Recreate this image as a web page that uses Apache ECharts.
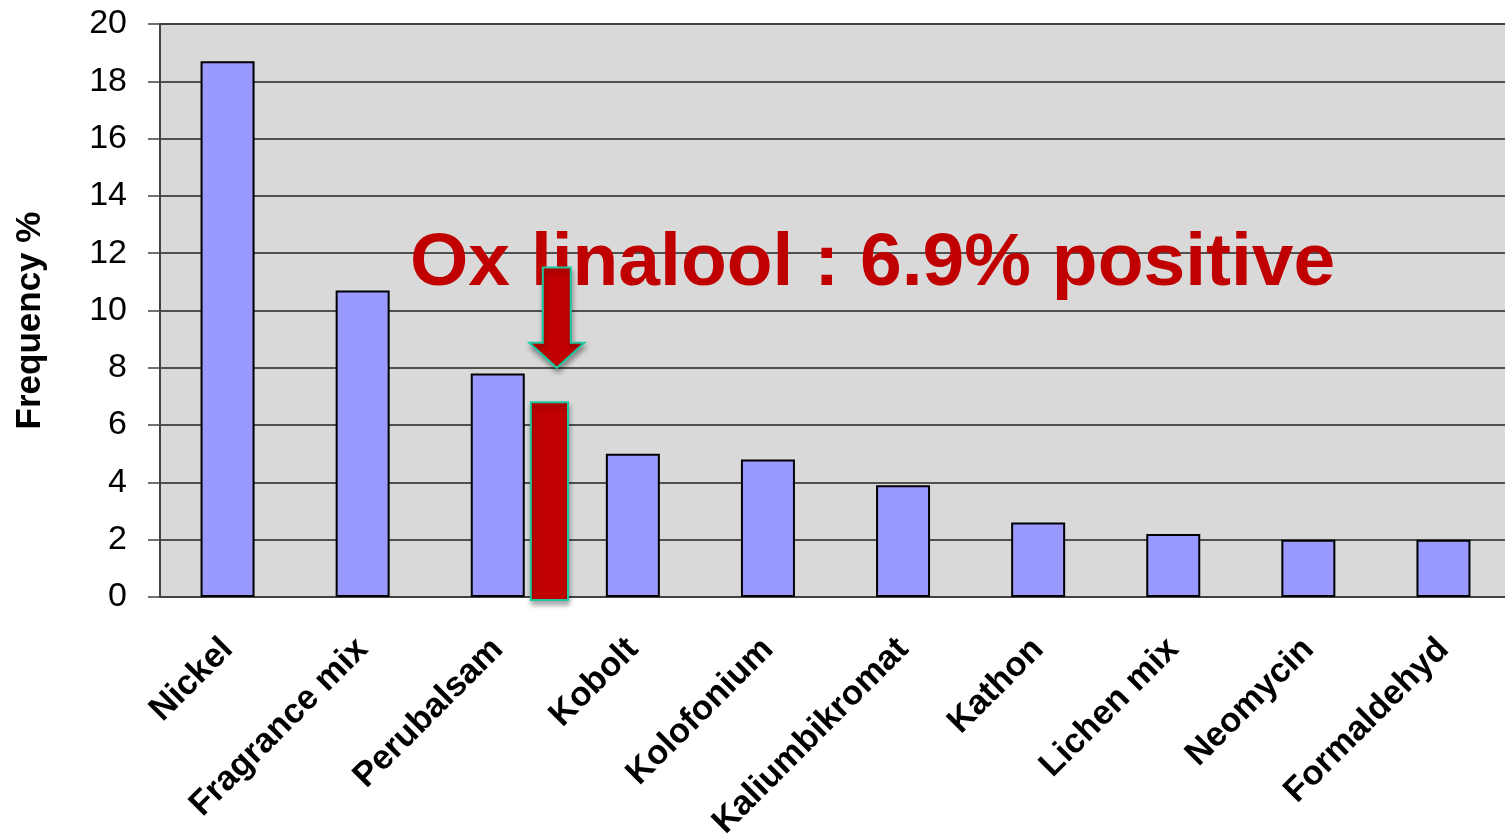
<!DOCTYPE html>
<html>
<head>
<meta charset="utf-8">
<style>
  html, body { margin: 0; padding: 0; background: #fff; }
  #chart { width: 1505px; height: 838px; }
</style>
<script src="https://cdn.jsdelivr.net/npm/echarts@6/dist/echarts.min.js"></script>
</head>
<body>
<div id="chart"></div>
<script>
// allergens, patch test frequency in %
var categories = ['Nickel', 'Fragrance mix', 'Perubalsam', 'Kobolt', 'Kolofonium',
  'Kaliumbikromat', 'Kathon', 'Lichen mix', 'Neomycin', 'Formaldehyd']
var frequency = [18.7, 10.7, 7.8, 5.0, 4.8, 3.9, 2.6, 2.2, 2.0, 2.0]
var yTicks = [0, 20, 2] // min, max, interval

// oxidised linalool, drawn after Perubalsam
var oxLinalool = [[2, 6.8]]
var oxText = 'Ox linalool : 6.9% positive'

var font = '"Liberation Sans", Arial, sans-serif'
var red = '#c00000'
var teal = '#1cc8a0'

var chart = echarts.init(document.getElementById('chart'))

chart.setOption({
  animation: false,
  grid: {
    left: 160,
    top: 24,
    width: 1351,
    bottom: 241,
    outerBoundsMode: 'none',
    containLabel: false,
    show: true,
    backgroundColor: '#d9d9d9',
    borderColor: '#808080',
    borderWidth: 1.5
  },
  graphic: [{
    type: 'text',
    z: 5,
    x: 410,
    y: 227,
    style: {
      text: oxText,
      fill: red,
      fontSize: 75,
      fontWeight: 'bold',
      fontFamily: font,
      align: 'left',
      verticalAlign: 'top'
    }
  }],
  xAxis: {
    type: 'category',
    data: categories,
    axisLine: { lineStyle: { color: '#444', width: 1.5 } },
    axisTick: { length: 10, lineStyle: { color: '#444', width: 1.5 } },
    axisLabel: {
      interval: 0,
      rotate: 45,
      margin: 47,
      color: '#000',
      fontSize: 34.5,
      fontWeight: 'bold',
      fontFamily: font
    }
  },
  yAxis: {
    type: 'value',
    min: yTicks[0],
    max: yTicks[1],
    interval: yTicks[2],
    name: 'Frequency %',
    nameLocation: 'middle',
    nameGap: 112,
    nameTextStyle: {
      color: '#000',
      fontSize: 35,
      fontWeight: 'bold',
      fontFamily: font,
      padding: [0, 20, 0, 0]
    },
    axisLine: { show: true, lineStyle: { color: '#444', width: 2 } },
    axisTick: { show: true, length: 12, lineStyle: { color: '#444', width: 1.5 } },
    axisLabel: {
      margin: 33,
      color: '#000',
      fontSize: 34,
      fontFamily: font
    },
    splitLine: { lineStyle: { color: '#222', width: 1.5 } }
  },
  series: [{
    type: 'bar',
    data: frequency,
    barWidth: 54,
    z: 3,
    itemStyle: {
      color: '#9999ff',
      borderColor: '#000',
      borderWidth: 2
    }
  }, {
    type: 'custom',
    data: oxLinalool,
    z: 10,
    clip: false,
    encode: { x: 0, y: 1 },
    renderItem: function(params, api) {
      var top = api.coord([api.value(0), api.value(1)])
      var base = api.coord([api.value(0), 0])
      var band = api.size([1, 0])[0]
      var x0 = top[0] + band * 0.245
      var x1 = top[0] + band * 0.52
      // arrow pointing down at the red bar
      var cx = top[0] + band * 0.437
      var aTop = api.coord([api.value(0), 11.5])[1]
      var aTip = api.coord([api.value(0), 8.0])[1]
      var hTop = aTip - 25
      var shadow = {
        shadowBlur: 5,
        shadowOffsetX: 1,
        shadowOffsetY: 4,
        shadowColor: 'rgba(0,0,0,0.35)'
      }
      return {
        type: 'group',
        children: [{
          type: 'rect',
          shape: { x: x0, y: top[1], width: x1 - x0, height: base[1] - top[1] + 3 },
          style: Object.assign({ fill: red, stroke: teal, lineWidth: 2 }, shadow)
        }, {
          type: 'polygon',
          shape: {
            points: [
              [cx - 14, aTop], [cx + 14, aTop], [cx + 14, hTop], [cx + 27.5, hTop],
              [cx, aTip], [cx - 27.5, hTop], [cx - 14, hTop]
            ]
          },
          style: Object.assign({ fill: red, stroke: teal, lineWidth: 2 }, shadow)
        }]
      }
    }
  }]
})
</script>
</body>
</html>
